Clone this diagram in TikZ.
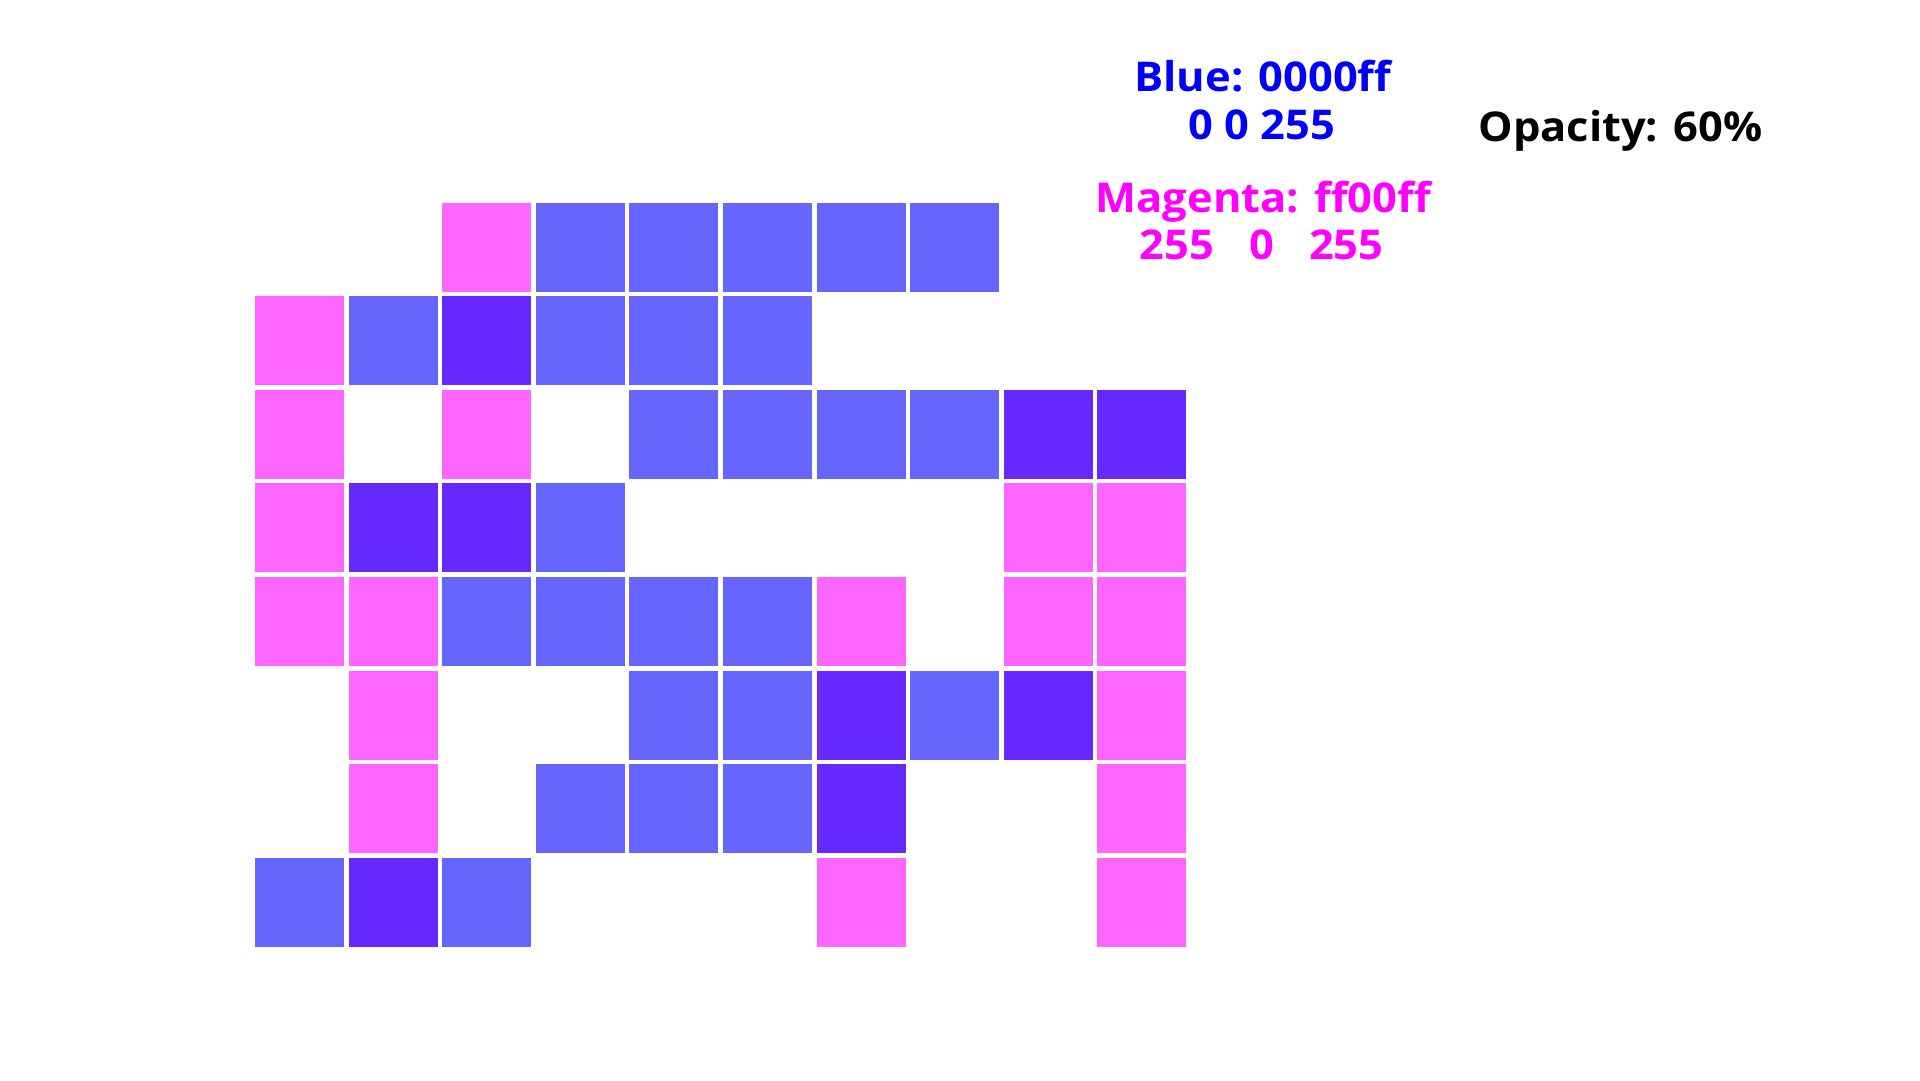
\documentclass[tikz,border=0pt]{standalone}
\usepackage{fontspec}
\setmainfont{Open Sans}
\usetikzlibrary{positioning}
\definecolor{tileblue}{HTML}{0000FF}
\definecolor{tilemag}{HTML}{FF00FF}
\newcommand{\tilesize}{89}
\newcommand{\tilepitch}{93.6}
\begin{document}
\begin{tikzpicture}[x=1pt, y=-1pt,
  lbl/.style={font=\fontsize{41}{48}\selectfont\bfseries, inner sep=0pt,
              anchor=base, xscale=1.06},
  magcell/.style={fill=tilemag, fill opacity=0.6},
  bluecell/.style={fill=tileblue, fill opacity=0.6}
]
\useasboundingbox (0,0) rectangle (1920,1080);
% --- magenta tiles (drawn first) -----------------------------------------
\foreach \c/\r in {2/0, 0/1, 2/1, 0/2, 2/2, 8/2, 9/2,
                   0/3, 1/3, 2/3, 8/3, 9/3, 0/4, 1/4, 6/4, 8/4, 9/4,
                   1/5, 6/5, 8/5, 9/5, 1/6, 6/6, 9/6, 1/7, 6/7, 9/7}
  \fill[magcell] ({255+\c*\tilepitch},{202.5+\r*\tilepitch}) rectangle ++(\tilesize,\tilesize);
% --- blue tiles (on top, overlaps turn purple) ---------------------------
\foreach \c/\r in {3/0, 4/0, 5/0, 6/0, 7/0, 1/1, 2/1, 3/1, 4/1, 5/1,
                   4/2, 5/2, 6/2, 7/2, 8/2, 9/2, 1/3, 2/3, 3/3,
                   2/4, 3/4, 4/4, 5/4, 4/5, 5/5, 6/5, 7/5, 8/5,
                   3/6, 4/6, 5/6, 6/6, 0/7, 1/7, 2/7}
  \fill[bluecell] ({255+\c*\tilepitch},{202.5+\r*\tilepitch}) rectangle ++(\tilesize,\tilesize);
% --- labels --------------------------------------------------------------
\node[lbl, text=tileblue] (bluehex) at (1263,91.7) {Blue: 0000ff};
\node[lbl, text=tileblue] (bluergb) at (1261.5,139.3) {0 0 255};
\node[lbl, text=tilemag] (maghex) at (1263.3,212.3) {Magenta: ff00ff};
\node[lbl, text=tilemag] (magrgb) at (1261.7,259) {255\hspace{33pt}0\hspace{33pt}255};
\node[lbl, text=black] (opac) at (1620.3,141.7) {Opacity: 60\%};
\end{tikzpicture}
\end{document}
